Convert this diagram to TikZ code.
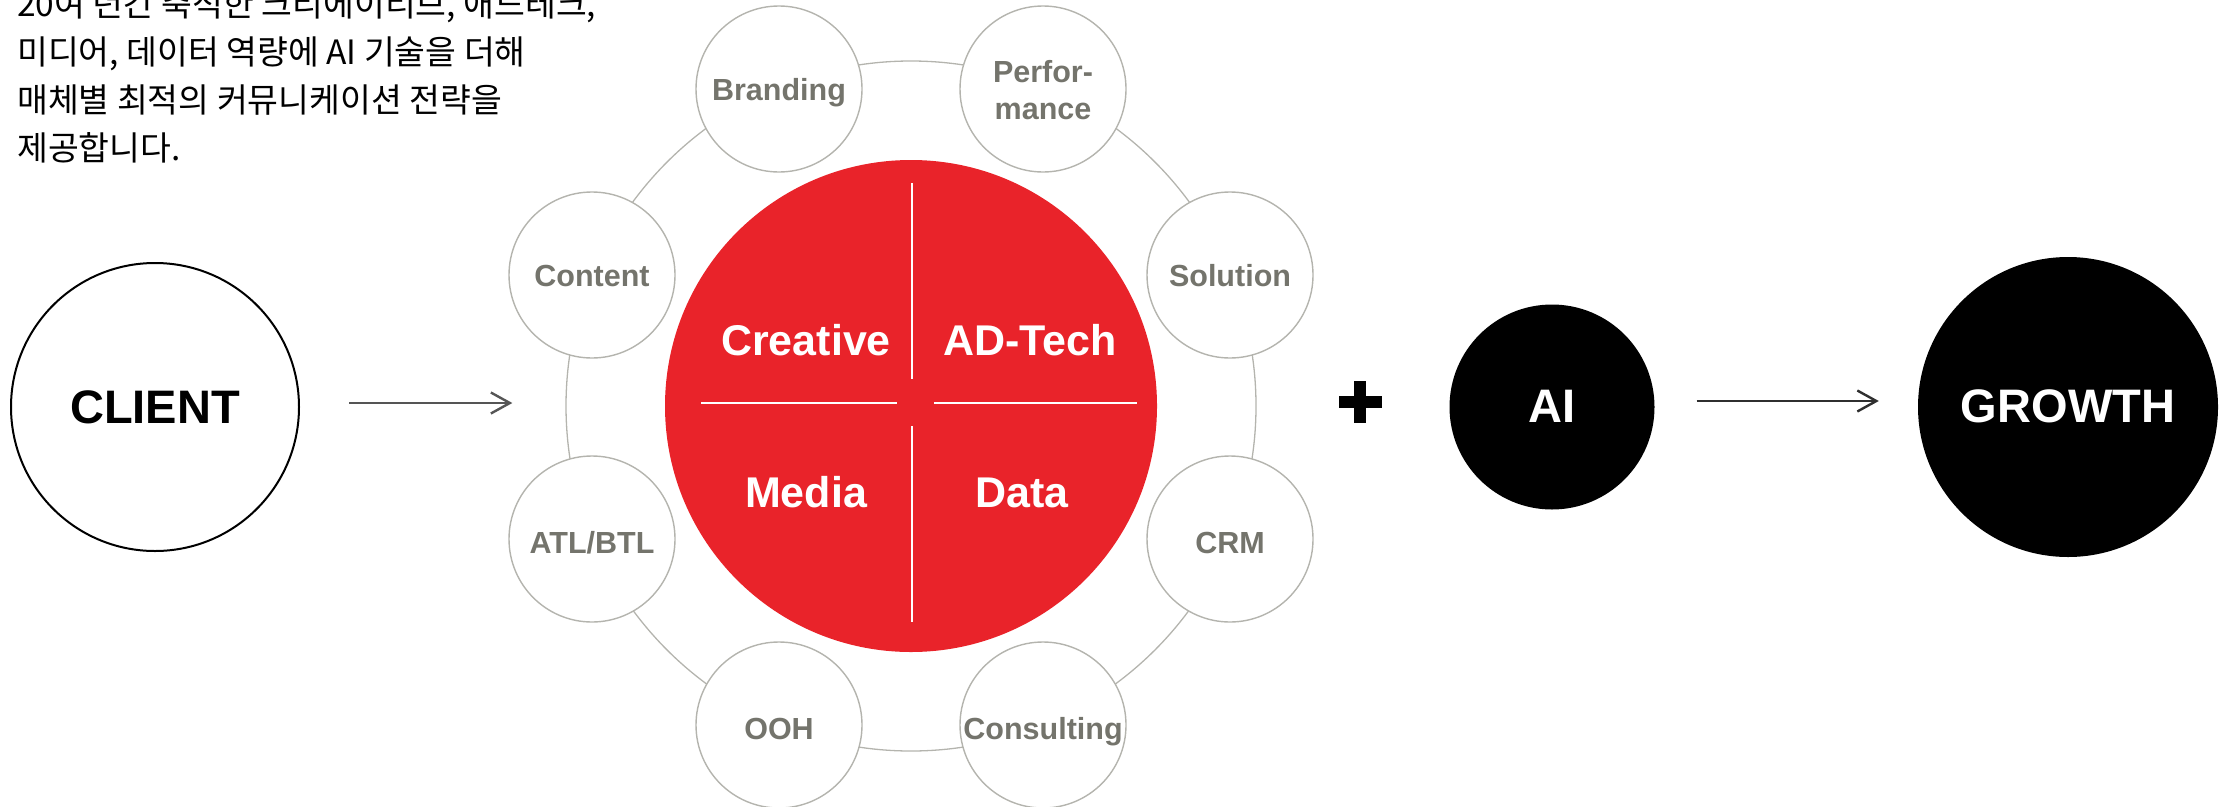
\documentclass[tikz,border=0pt]{standalone}
\usepackage{fontspec}
\setmainfont{Liberation Sans}
\newfontfamily\kr{Noto Sans CJK KR}
\usetikzlibrary{arrows.meta}
\definecolor{corered}{HTML}{E9232A}
\definecolor{satgray}{HTML}{74746C}
\definecolor{ringgray}{HTML}{B4B4AE}
\definecolor{arrgray}{HTML}{555555}
\definecolor{arrdark}{HTML}{2F2F2F}
\tikzset{
  sat/.style={circle, draw=ringgray, line width=1.4pt, fill=white, minimum size=166pt, inner sep=0pt},
  satlbl/.style={font=\fontsize{30.5}{32}\selectfont\bfseries, text=satgray, align=center,
    inner sep=0pt, text height=22pt, text depth=0pt},
  coretext/.style={font=\fontsize{43}{46}\selectfont\bfseries, text=white, inner sep=0pt, anchor=base},
  bigtext/.style={font=\fontsize{47}{50}\selectfont\bfseries, inner sep=0pt, anchor=base},
  krline/.style={font=\kr\fontsize{33.5}{48}\selectfont, anchor=base west, inner sep=0pt},
  flowarrow/.style={line width=2.4pt, -{Straight Barb[length=19pt,width=21pt,line width=2.4pt]}},
  divider/.style={draw=white, line width=2.6pt}
}
\begin{document}
\begin{tikzpicture}[x=1pt,y=-1pt]
\useasboundingbox (0,0) rectangle (2234,806);
% Korean text
\node[krline] (t1) at (17,16) {20여 년간 축적한 크리에이티브, 애드테크,};
\node[krline] (t2) at (17,64) {미디어, 데이터 역량에 AI 기술을 더해};
\node[krline] (t3) at (17,112) {매체별 최적의 커뮤니케이션 전략을};
\node[krline] (t4) at (17,160) {제공합니다.};
% client
\node[circle, draw=black, line width=2pt, minimum size=288pt, inner sep=0pt] (client) at (155,407) {};
\node[bigtext] (clientlbl) at (155,423) {CLIENT};
% ring
\node[circle, draw=ringgray, line width=1.3pt, minimum size=690pt, inner sep=0pt] (ring) at (911,406) {};
% satellites
\node[sat] (solution) at (1230,275) {};
\node[sat] (perf) at (1043,89) {};
\node[sat] (branding) at (779,89) {};
\node[sat] (content) at (592,275) {};
\node[sat] (atl) at (592,539) {};
\node[sat] (ooh) at (779,725) {};
\node[sat] (consult) at (1043,725) {};
\node[sat] (crm) at (1230,539) {};
\node[satlbl] (solutionlbl) at (solution) {Solution};
\node[satlbl, anchor=base] (perflbl1) at (1043,82) {Perfor-};
\node[satlbl, anchor=base] (perflbl2) at (1043,119) {mance};
\node[satlbl] (brandinglbl) at (branding) {Branding};
\node[satlbl] (contentlbl) at (content) {Content};
\node[satlbl] (atllbl) at ([yshift=-3pt]atl.center) {ATL/BTL};
\node[satlbl] (oohlbl) at ([yshift=-3pt]ooh.center) {OOH};
\node[satlbl] (consultlbl) at ([yshift=-3pt]consult.center) {Consulting};
\node[satlbl] (crmlbl) at ([yshift=-3pt]crm.center) {CRM};
% core
\node[circle, fill=corered, minimum size=492pt, inner sep=0pt] (core) at (911,406) {};
\draw[divider] (912,183) -- (912,379);
\draw[divider] (912,426) -- (912,622);
\draw[divider] (701,403) -- (897,403);
\draw[divider] (934,403) -- (1137,403);
\node[coretext] (creative) at (806,355) {Creative};
\node[coretext] (adtech) at (1030,355) {AD-Tech};
\node[coretext] (media) at (806,507) {Media};
\node[coretext] (data) at (1022,507) {Data};
% plus
\fill[black] (1339,396) rectangle (1382,408);
\fill[black] (1354,381) rectangle (1366,423);
% AI and growth
\node[circle, fill=black, minimum size=205pt, inner sep=0pt] (ai) at (1552,407) {};
\node[bigtext, text=white] (ailbl) at (1552,422) {AI};
\node[circle, fill=black, minimum size=300pt, inner sep=0pt] (growth) at (2068,407) {};
\node[bigtext, text=white] (growthlbl) at (2068,422) {GROWTH};
% arrows
\draw[flowarrow, draw=arrgray, shorten <=49pt, shorten >=53pt] ([yshift=4pt]client.east) -- ([yshift=4pt]client.east -| ring.west);
\draw[flowarrow, draw=arrdark, shorten <=42pt, shorten >=39pt] ([yshift=6pt]ai.east) -- ([yshift=6pt]growth.west);
\end{tikzpicture}
\end{document}
